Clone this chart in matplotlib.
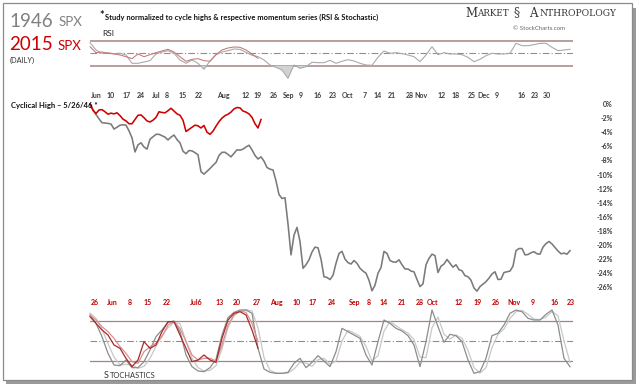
import numpy as np
import matplotlib
matplotlib.use("Agg")
import matplotlib.pyplot as plt
from matplotlib.patches import Rectangle
from matplotlib.transforms import blended_transform_factory

# ---------------- data ----------------
# % change from cycle high, one value per session step
spx_1946 = [0.0, -0.8, -1.5, -2.1, -2.65, -2.7, -2.75, -2.85, -3.55, -3.3,
            -3.0, -2.95, -3.0, -3.8, -4.8, -6.8, -5.8, -5.5, -6.1, -6.4,
            -5.0, -4.65, -4.3, -4.3, -4.5, -4.7, -5.1, -4.7, -4.4, -5.05,
            -5.5, -6.7, -7.05, -6.6, -6.65, -6.9, -7.2, -9.6, -9.95, -9.55,
            -9.15, -8.7, -8.3, -7.3, -6.85, -6.85, -7.15, -7.5, -7.0, -6.5,
            -6.55, -6.4, -6.1, -5.85, -6.5, -7.3, -7.8, -7.5, -8.1, -9.0,
            -9.25, -9.35, -10.9, -12.85, -13.4, -13.3, -17.0, -21.4, -18.6, -17.5,
            -19.5, -23.3, -22.8, -22.1, -21.0, -20.3, -20.4, -22.0, -24.5, -24.6,
            -24.9, -24.3, -22.6, -21.2, -20.9, -22.0, -22.5, -22.7, -22.2, -22.6,
            -23.3, -23.7, -24.0, -25.0, -26.5, -25.7, -24.0, -23.2, -20.9, -21.2,
            -22.2, -22.4, -22.45, -22.1, -22.8, -23.4, -23.4, -23.7, -23.8, -24.9,
            -25.9, -25.5, -22.8, -21.9, -21.3, -21.5, -23.9, -23.0, -22.7, -22.05,
            -22.6, -23.15, -22.8, -23.5, -23.65, -24.35, -24.5, -25.0, -26.1, -26.55,
            -25.9, -25.55, -25.2, -24.7, -24.1, -23.8, -24.9, -24.85, -23.9, -23.8,
            -23.7, -23.0, -20.8, -20.5, -20.5, -21.4, -21.35, -21.1, -20.95, -21.25,
            -21.3, -20.3, -19.8, -19.5, -19.85, -20.35, -20.85, -21.25, -21.15, -21.3,
            -20.8]
spx_2015 = [0.0, -0.9, -1.35, -0.85, -0.8, -1.1, -1.45, -1.3, -1.4, -1.25,
            -1.65, -2.15, -2.4, -2.8, -2.8, -2.2, -1.6, -1.55, -1.95, -2.4,
            -2.55, -2.3, -1.9, -1.1, -1.2, -1.25, -0.95, -0.6, -1.0, -1.4,
            -1.6, -2.3, -3.9, -3.6, -3.3, -3.0, -3.1, -3.4, -3.05, -4.0,
            -4.3, -3.85, -3.15, -2.5, -2.0, -1.65, -1.45, -1.15, -0.7, -0.5,
            -0.55, -1.0, -1.15, -1.4, -1.9, -2.8, -3.4, -2.2]

# RSI (every second session step)
rsi_1946 = [67.0, 55.3, 50.0, 51.0, 49.4, 50.0, 47.3, 34.0, 34.0, 36.1,
            38.2, 48.9, 52.1, 54.2, 50.0, 39.3, 34.0, 39.3, 34.0, 24.4,
            37.7, 47.8, 52.1, 54.2, 56.9, 56.4, 51.6, 46.8, 44.6, 39.3,
            31.3, 27.6, 23.3, 10.0, 31.3, 26.0, 28.6, 35.6, 35.0, 35.0,
            38.8, 34.0, 37.2, 39.8, 37.7, 34.0, 31.3, 30.8, 43.6, 53.7,
            50.0, 51.0, 49.4, 47.3, 44.6, 36.6, 47.3, 60.6, 47.8, 51.0,
            48.9, 48.9, 47.8, 43.6, 36.6, 40.4, 46.2, 50.0, 48.9, 48.9,
            50.0, 66.0, 62.2, 62.2, 63.8, 66.0, 66.0, 59.6, 54.2, 55.3,
            56.4]
rsi_2015 = [60.6, 51.0, 52.1, 50.0, 48.9, 47.3, 44.6, 41.4, 48.9, 44.6,
            47.8, 51.0, 53.7, 56.4, 52.1, 44.6, 37.2, 40.4, 41.4, 38.2,
            37.2, 47.8, 55.3, 58.5, 60.1, 59.6, 55.3, 48.9, 42.0]

# Stochastics (every second session step)
stoch_k_1946 = [89, 76.5, 56.5, 31.5, 14, 13, 21.5, 10, 10, 19,
                36.5, 56.5, 66.5, 78, 80, 64, 29, 11.5, 5, 4,
                10, 22.5, 59, 85, 93, 96.5, 96.5, 91.5, 39, 8,
                3, 1.5, 1.5, 3, 16.5, 24, 10, 18, 28, 20,
                11.5, 34, 69, 64, 59, 54, 29, 14, 49, 81.5,
                76.5, 69, 65, 58, 44, 11.5, 49, 96.5, 71.5, 48,
                60, 58, 49, 21.5, 1.5, 4, 24, 58, 61.5, 74,
                91.5, 96.5, 94, 84, 81.5, 81.5, 90, 96.5, 74, 24,
                11.5]
stoch_d_1946 = [92, 84, 68, 46, 26, 14, 15, 14, 9, 12,
                24, 42, 58, 70, 78, 76, 50, 24, 10, 5,
                6, 13, 38, 70, 88, 95, 97, 95, 70, 25,
                6, 2, 1.5, 2, 8, 18, 17, 12, 22, 24,
                15, 20, 50, 66, 62, 57, 42, 20, 28, 65,
                79, 73, 67, 62, 52, 26, 25, 70, 86, 60,
                53, 59, 54, 36, 10, 2, 10, 40, 60, 68,
                84, 94, 96, 90, 83, 82, 86, 94, 88, 50,
                18]
stoch_k_2015 = [86.5, 76.5, 66.5, 59, 44, 39, 24, 11.5, 21.5, 49,
                39, 44, 64, 79, 79, 59, 39, 19, 21.5, 29,
                21.5, 18, 54, 81.5, 91.5, 94, 89, 66.5, 39]
stoch_d_2015 = [89, 81.5, 71.5, 64, 54, 41.5, 31.5, 19, 16.5, 34,
                41.5, 46.5, 56.5, 74, 79, 69, 49, 29, 21.5, 24,
                24, 20, 44, 74, 89, 95, 93, 76.5, 49]

pct_ticks = [0, -2, -4, -6, -8, -10, -12, -14, -16, -18, -20, -22, -24, -26]
rsi_levels = [70, 50, 30]
stoch_levels = [80, 50, 20]

dates_1946 = ["Jun", "10", "17", "24", "Jul", "8", "15", "22", "Aug", "12", "19",
              "26", "Sep", "9", "16", "23", "Oct", "7", "14", "21", "28", "Nov",
              "12", "18", "25", "Dec", "9", "16", "23", "30"]
dates_1946_at = [2, 7, 12.3, 17, 22, 25.7, 31, 36.3, 44.3, 51.7, 56,
                 61.3, 66.3, 70.3, 75.7, 81, 86, 91.7, 96, 100.7, 106.7, 110.3,
                 117.3, 121.7, 127.3, 131.3, 135.7, 144, 148.3, 152.3]
dates_2015 = ["26", "Jun", "8", "15", "22", "Jul6", "13", "20", "27", "Aug",
              "10", "17", "24", "Sep", "8", "14", "21", "28", "Oct", "12",
              "19", "26", "Nov", "9", "16", "23"]
dates_2015_at = [1.7, 7.3, 13.3, 19.3, 25.7, 35.3, 43.3, 49, 55.7, 62,
                 68.7, 74.3, 80.7, 88.3, 93, 98, 104, 110, 114.3, 123,
                 129.3, 135.3, 141.3, 147.7, 154.7, 160.3]

# ---------------- figure ----------------
W, H = 640, 385
fig = plt.figure(figsize=(W / 100, H / 100), dpi=100)
fig.patch.set_facecolor("white")
FONT = "Lato"

def fx(px):
    return px / W

def fy(py):
    return 1 - py / H

def add_ax(top, bottom):
    ax = fig.add_axes([fx(90), fy(bottom), fx(573) - fx(90), fy(top) - fy(bottom)])
    ax.set_xlim(0, 161)
    ax.set_facecolor("none")
    for s in ax.spines.values():
        s.set_visible(False)
    ax.set_xticks([])
    ax.set_yticks([])
    return ax

GRID_C = "#a58484"

# frame with shadow (behind the axes)
fig.add_artist(Rectangle((fx(6), fy(384)), fx(636) - fx(6), fy(8) - fy(384),
                         transform=fig.transFigure, facecolor="#9a9a9a",
                         edgecolor="none", zorder=-3))
fig.add_artist(Rectangle((fx(3), fy(380)), fx(632) - fx(3), fy(3) - fy(380),
                         transform=fig.transFigure, facecolor="white",
                         edgecolor="#8a8a8a", lw=0.9, zorder=-2))

# --- main panel
ax = add_ax(100, 295)
ax.set_ylim(-(295 - 104) / 7.05, -(100 - 104) / 7.05)
x_main = np.arange(len(spx_1946))
ax.plot(x_main, spx_1946, color="#7a7a7a", lw=1.15, clip_on=False, zorder=3)
ax.plot(np.arange(len(spx_2015)), spx_2015, color="#d10000", lw=1.15,
        clip_on=False, zorder=4)
ax.yaxis.tick_right()
ax.set_yticks(pct_ticks)
ax.set_yticklabels([f"{t}%" for t in pct_ticks], fontsize=5, fontfamily=FONT,
                   fontweight="bold", color="#3a3a3a", ha="right")
ax.tick_params(axis="y", length=0, pad=28.8)

trans_top = blended_transform_factory(ax.transData, fig.transFigure)
for lab, pos in zip(dates_1946, dates_1946_at):
    fig.text(pos, fy(98), lab, transform=trans_top, ha="center", va="baseline",
             fontsize=5, fontfamily=FONT, fontweight="bold", color="#3d3d3d")
for lab, pos in zip(dates_2015, dates_2015_at):
    fig.text(pos, fy(305), lab, transform=trans_top, ha="center", va="baseline",
             fontsize=5, fontfamily=FONT, fontweight="bold", color="#c00000")

# --- RSI panel
axr = add_ax(30, 80)
axr.set_ylim(50 - (80 - 53.3) / 0.625, 50 + (53.3 - 30) / 0.625)
for lvl in rsi_levels:
    if lvl == 50:
        axr.axhline(lvl, color=GRID_C, lw=0.8, ls=(0, (6, 2, 1, 2)), zorder=1)
    else:
        axr.axhline(lvl, color=GRID_C, lw=1.1, zorder=1)
x_rsi = np.arange(len(rsi_1946)) * 2
r46 = np.array(rsi_1946)
axr.fill_between(x_rsi, r46, 30, where=r46 < 30, interpolate=True,
                 color="#d2d2d2", lw=0, zorder=2)
axr.plot(x_rsi, r46, color="#aaaaaa", lw=0.8, clip_on=False, zorder=3)
axr.plot(np.arange(len(rsi_2015)) * 2, rsi_2015, color="#c47878", lw=0.75,
         clip_on=False, zorder=4)

# --- Stochastics panel
axs = add_ax(308, 377)
axs.set_ylim(50 - (377 - 341) * 1.5, 50 + (341 - 308) * 1.5)
for lvl in stoch_levels:
    if lvl == 50:
        axs.axhline(lvl, color=GRID_C, lw=0.8, ls=(0, (6, 2, 1, 2)), zorder=1)
    else:
        axs.axhline(lvl, color=GRID_C, lw=0.9, zorder=1)
x_st = np.arange(len(stoch_k_1946)) * 2
axs.plot(x_st, stoch_d_1946, color="#c8c8c8", lw=0.9, clip_on=False, zorder=2)
axs.plot(x_st, stoch_k_1946, color="#8c8c8c", lw=0.9, clip_on=False, zorder=3)
x_st2 = np.arange(len(stoch_k_2015)) * 2
axs.plot(x_st2, stoch_d_2015, color="#d89090", lw=0.9, clip_on=False, zorder=4)
axs.plot(x_st2, stoch_k_2015, color="#a82a2a", lw=0.9, clip_on=False, zorder=5)

# ---------------- texts ----------------
fig.text(fx(9), fy(21.5), "1946", fontsize=13.5, fontfamily=FONT, color="#808080",
         va="center", ha="left")
fig.text(fx(59), fy(22.5), "SPX", fontsize=9.5, fontfamily=FONT, color="#808080",
         va="center", ha="left")
fig.text(fx(9), fy(45), "2015", fontsize=13.5, fontfamily=FONT, color="#cc0000",
         va="center", ha="left")
fig.text(fx(58), fy(46), "SPX", fontsize=9.5, fontfamily=FONT, color="#cc0000",
         va="center", ha="left")
fig.text(fx(10), fy(60), "(DAILY)", fontsize=5.3, fontfamily=FONT, color="#333333",
         va="center", ha="left")

fig.text(fx(99), fy(15.5), "*", fontsize=8, fontfamily=FONT, fontweight="bold",
         color="#111111", va="center", ha="left")
fig.text(fx(105), fy(17.5),
         "Study normalized to cycle highs & respective momentum series (RSI & Stochastic)",
         fontsize=5.4, fontfamily=FONT, fontweight="bold", color="#111111",
         va="center", ha="left")
fig.text(fx(102), fy(34), "RSI", fontsize=6, fontfamily=FONT, color="#222222",
         va="center", ha="left")
fig.text(fx(11), fy(105.5), "Cyclical High \u2013 5/26/46 *", fontsize=5.5,
         fontfamily=FONT, fontweight="bold", color="#111111", va="center", ha="left")

# logo
fig.text(fx(465), fy(13.5), "M", fontsize=8.5, fontfamily="DejaVu Serif",
         color="#333333", va="center", ha="left")
fig.text(fx(477), fy(14), "ARKET", fontsize=6.3, fontfamily="DejaVu Serif",
         color="#333333", va="center", ha="left")
fig.text(fx(516.5), fy(13), "\u00a7", fontsize=9, fontfamily="DejaVu Serif",
         color="#444444", va="center", ha="center")
fig.text(fx(529), fy(13.5), "A", fontsize=8.5, fontfamily="DejaVu Serif",
         color="#333333", va="center", ha="left")
fig.text(fx(540), fy(14), "NTHROPOLOGY", fontsize=6.6, fontfamily="DejaVu Serif",
         color="#333333", va="center", ha="left")
fig.text(fx(513), fy(29), "\u00a9 StockCharts.com", fontsize=4.4, fontfamily=FONT,
         color="#666666", va="center", ha="left")

fig.text(fx(104), fy(375), "S", fontsize=6.5, fontfamily=FONT, color="#333333",
         va="center", ha="left")
fig.text(fx(109.5), fy(375.5), "TOCHASTICS", fontsize=5.4, fontfamily=FONT,
         color="#333333", va="center", ha="left")

fig.savefig("out.png", dpi=100, facecolor="white")
